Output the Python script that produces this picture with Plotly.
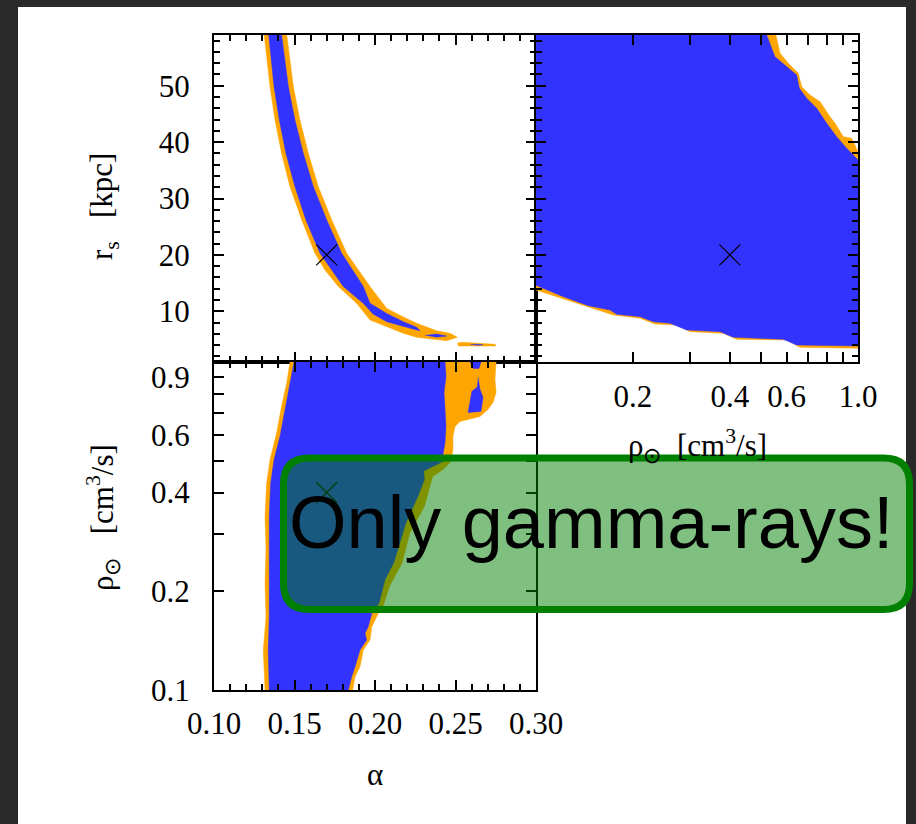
import plotly.graph_objects as go

# ---------------- data ----------------
# best-fit point
best_alpha = [0.17]
best_rs = [20.0]
best_rho = [0.4]

# alpha vs r_s : outer (orange) and inner (blue) confidence regions
ar_outer_alpha = [0.1312, 0.1348, 0.1379, 0.1420, 0.1472, 0.1545, 0.1627, 0.1689, 0.1772, 0.1886,
                  0.1969, 0.2093, 0.2176, 0.2259, 0.2342, 0.2445, 0.2511,
                  0.2466, 0.2383, 0.2321, 0.2259, 0.2176, 0.2073, 0.1969, 0.1824, 0.1731,
                  0.1648, 0.1586, 0.1534, 0.1493, 0.1452]
ar_outer_rs = [59.0, 49.8, 43.9, 38.0, 32.1, 26.2, 20.3, 17.3, 14.4, 11.4,
               8.45, 6.98, 6.09, 5.38, 5.08, 4.78, 5.38,
               6.09, 6.55, 7.15, 7.86, 9.0, 10.5, 14.4, 20.3, 26.2,
               32.1, 38.0, 43.9, 49.8, 59.0]
ar_inner_alpha = [0.1340, 0.1373, 0.1406, 0.1447, 0.1503, 0.1571, 0.1658, 0.1803, 0.1927, 0.1988,
                  0.2073, 0.2176, 0.2259, 0.2280,
                  0.2259, 0.2176, 0.2073, 0.1969, 0.1927, 0.1793, 0.1700, 0.1617, 0.1555,
                  0.1503, 0.1462, 0.1420]
ar_inner_rs = [59.0, 49.8, 43.9, 38.0, 32.1, 26.2, 20.3, 14.4, 11.4, 9.5,
               8.15, 7.26, 6.68, 6.55,
               7.15, 8.15, 9.6, 11.4, 14.4, 20.3, 26.2, 32.1, 38.0,
               43.9, 49.8, 59.0]
ar_inner2_alpha = [0.2311, 0.2380, 0.2445, 0.2380]
ar_inner2_rs = [5.7, 5.95, 5.6, 5.4]
ar_tail_alpha = [0.2511, 0.2539, 0.2745, 0.2752, 0.2517]
ar_tail_rs = [4.32, 4.49, 4.14, 3.84, 3.84]
ar_tail_inner_alpha = [0.2590, 0.2630, 0.2670, 0.2630]
ar_tail_inner_rs = [4.05, 4.15, 4.05, 3.95]

# rho vs r_s
rr_outer_rho = [0.1, 0.5560, 0.5726, 0.6076, 0.6527, 0.6687, 0.7095, 0.7621, 0.8185, 0.8484,
                0.9005, 0.9557, 1.0, 1.0,
                0.6605, 0.6004, 0.4201, 0.3818, 0.3008, 0.2734, 0.2342, 0.2104, 0.1739,
                0.1471, 0.1216, 0.1]
rr_outer_rs = [59.0, 59.0, 55.75, 53.97, 52.2, 49.8, 48.36, 47.17, 44.51, 43.33,
               40.97, 40.67, 38.31, 3.42,
               3.60, 4.90, 5.02, 6.08, 6.38, 7.56, 7.74, 8.75, 9.34,
               10.70, 12.12, 13.77]
rr_inner_rho = [0.1, 0.5204, 0.5521, 0.6004, 0.6450, 0.6574, 0.6928, 0.7441, 0.7993, 0.8585,
                0.9222, 1.0, 1.0,
                0.6450, 0.5863, 0.4101, 0.3728, 0.2937, 0.2607, 0.2314, 0.2104, 0.1781,
                0.1698, 0.1454, 0.1216, 0.1]
rr_inner_rs = [59.0, 59.0, 55.16, 53.38, 51.9, 49.54, 47.77, 45.99, 43.33, 40.97,
               38.9, 36.83, 3.84,
               4.02, 5.02, 5.38, 6.38, 6.68, 7.86, 8.15, 9.04, 9.45,
               10.22, 10.99, 12.59, 14.6]

# alpha vs rho
ap_outer_alpha = [0.1472, 0.1452, 0.1420, 0.1389, 0.1348, 0.1327, 0.1317, 0.1323, 0.1317, 0.1323,
                  0.1306, 0.1317,
                  0.1861, 0.1876, 0.1907, 0.1927, 0.1969, 0.1980, 0.2020, 0.2050, 0.2090,
                  0.2168, 0.2217, 0.2307, 0.2358, 0.2422, 0.2472, 0.2478, 0.2484, 0.2484,
                  0.2497, 0.2528, 0.2652, 0.2702, 0.2733, 0.2752, 0.2745, 0.2752]
ap_outer_rho = [1.0, 0.865, 0.734, 0.608, 0.504, 0.428, 0.338, 0.268, 0.212, 0.167,
                0.1325, 0.1,
                0.1, 0.1098, 0.1178, 0.1325, 0.142, 0.156, 0.171, 0.180, 0.207,
                0.244, 0.302, 0.363, 0.448, 0.470, 0.497, 0.522, 0.541, 0.593,
                0.636, 0.659, 0.682, 0.717, 0.753, 0.808, 0.885, 1.0]
ap_inner_alpha = [0.1497, 0.1472, 0.1441, 0.1410, 0.1373, 0.1352, 0.1343, 0.1343, 0.1340, 0.1343,
                  0.1337, 0.1343,
                  0.1834, 0.1855, 0.1876, 0.1896, 0.1907, 0.1948, 0.1938, 0.1958, 0.1980,
                  0.2025, 0.2062, 0.2116, 0.2168, 0.2193, 0.2267, 0.2307, 0.2302, 0.2422,
                  0.2422, 0.2435, 0.2441, 0.2435, 0.2429, 0.2441, 0.2435]
ap_inner_rho = [1.0, 0.865, 0.717, 0.594, 0.504, 0.428, 0.338, 0.268, 0.212, 0.167,
                0.1325, 0.1,
                0.1, 0.1098, 0.1178, 0.1264, 0.1325, 0.142, 0.149, 0.156, 0.171,
                0.184, 0.217, 0.244, 0.294, 0.324, 0.390, 0.438, 0.465, 0.497,
                0.522, 0.568, 0.636, 0.707, 0.808, 0.904, 1.0]
ap_hole_alpha = [0.2640, 0.2652, 0.2671, 0.2658, 0.2578, 0.2590, 0.2602, 0.2634]
ap_hole_rho = [0.898, 0.825, 0.780, 0.707, 0.702, 0.769, 0.814, 0.837]
ap_top_alpha = [0.2590, 0.2658, 0.2646, 0.2609]
ap_top_rho = [1.0, 1.0, 0.956, 0.956]

# ticks and tick labels
alpha_ticks = [0.10, 0.15, 0.20, 0.25, 0.30]
alpha_ticklabels = ["0.10", "0.15", "0.20", "0.25", "0.30"]
rs_ticks = [10, 20, 30, 40, 50]
rho_x_ticks = [0.2, 0.4, 0.6, 1.0]
rho_x_ticklabels = ["0.2", "0.4", "0.6", "1.0"]
rho_x_minor = [0.3, 0.5, 0.7, 0.8, 0.9]
rho_y_ticks = [0.1, 0.2, 0.4, 0.6, 0.9]
rho_y_ticklabels = ["0.1", "0.2", "0.4", "0.6", "0.9"]
rho_y_minor = [0.3, 0.5, 0.7, 0.8]

ORANGE = "#FFA500"
BLUE = "#3333FF"
W, H = 916, 824
SERIF = "Liberation Serif"


def px(x):
    return x / W


def py(y):
    return 1 - y / H


fig = go.Figure()


def region(xs, ys, color, xa, ya):
    fig.add_trace(go.Scatter(x=xs, y=ys, mode="lines", fill="toself", fillcolor=color,
                             line=dict(color=color, width=0.5), hoverinfo="skip",
                             showlegend=False, xaxis=xa, yaxis=ya))


# top-left panel
region(ar_outer_alpha, ar_outer_rs, ORANGE, "x", "y")
region(ar_tail_alpha, ar_tail_rs, ORANGE, "x", "y")
region(ar_inner_alpha, ar_inner_rs, BLUE, "x", "y")
region(ar_inner2_alpha, ar_inner2_rs, BLUE, "x", "y")
region(ar_tail_inner_alpha, ar_tail_inner_rs, BLUE, "x", "y")
# top-right panel
region(rr_outer_rho, rr_outer_rs, ORANGE, "x2", "y2")
region(rr_inner_rho, rr_inner_rs, BLUE, "x2", "y2")
# bottom-left panel
region(ap_outer_alpha, ap_outer_rho, ORANGE, "x3", "y3")
region(ap_inner_alpha, ap_inner_rho, BLUE, "x3", "y3")
region(ap_hole_alpha, ap_hole_rho, BLUE, "x3", "y3")
region(ap_top_alpha, ap_top_rho, BLUE, "x3", "y3")

cross = dict(symbol="x-thin", size=21, line=dict(color="black", width=1.2), color="black")
fig.add_trace(go.Scatter(x=best_alpha, y=best_rs, mode="markers", marker=cross,
                         hoverinfo="skip", showlegend=False, xaxis="x", yaxis="y"))
fig.add_trace(go.Scatter(x=best_rho, y=best_rs, mode="markers", marker=cross,
                         hoverinfo="skip", showlegend=False, xaxis="x2", yaxis="y2"))
fig.add_trace(go.Scatter(x=best_alpha, y=best_rho, mode="markers", marker=cross,
                         hoverinfo="skip", showlegend=False, xaxis="x3", yaxis="y3"))

tickfont = dict(family=SERIF, size=31, color="black")
common = dict(showline=True, linecolor="black", linewidth=2, mirror="ticks", ticks="inside",
              ticklen=10, tickwidth=1.5, tickcolor="black", showgrid=False, zeroline=False,
              tickfont=tickfont, fixedrange=True, automargin=False)
alpha_minor = dict(ticks="inside", ticklen=6, tickwidth=1.5, tickcolor="black",
                   dtick=0.01, tick0=0.1, showgrid=False)
rs_minor = dict(ticks="inside", ticklen=6, tickwidth=1.5, tickcolor="black",
                dtick=2, tick0=0, showgrid=False)
rho_x_minor_ticks = dict(ticks="inside", ticklen=10, tickwidth=1.5, tickcolor="black",
                         tickmode="array", tickvals=rho_x_minor, showgrid=False)
rho_y_minor_ticks = dict(ticks="inside", ticklen=10, tickwidth=1.5, tickcolor="black",
                         tickmode="array", tickvals=rho_y_minor, showgrid=False)

dom_x_left = [px(214), px(536)]
dom_x_right = [px(536), px(858)]
dom_y_top = [py(362), py(35)]
dom_y_bot = [py(690), py(362)]

fig.update_layout(
    width=W, height=H,
    margin=dict(l=0, r=0, t=0, b=0, pad=0, autoexpand=False),
    paper_bgcolor="#2a2a2a",
    plot_bgcolor="white",
    showlegend=False,
    xaxis=dict(domain=dom_x_left, anchor="y", range=[0.1, 0.3], tickvals=alpha_ticks,
               showticklabels=False, minor=alpha_minor, **common),
    yaxis=dict(domain=dom_y_top, anchor="x", range=[1, 59], tickvals=rs_ticks,
               minor=rs_minor, ticklabelstandoff=16, **common),
    xaxis2=dict(domain=dom_x_right, anchor="y2", type="log", range=[-1, 0],
                tickvals=rho_x_ticks, ticktext=rho_x_ticklabels, minor=rho_x_minor_ticks,
                ticklabelstandoff=6, **common),
    yaxis2=dict(domain=dom_y_top, anchor="x2", range=[1, 59], tickvals=rs_ticks,
                showticklabels=False, minor=rs_minor, **common),
    xaxis3=dict(domain=dom_x_left, anchor="y3", range=[0.1, 0.3], tickvals=alpha_ticks,
                ticktext=alpha_ticklabels, minor=alpha_minor,
                ticklabelstandoff=5, **common),
    yaxis3=dict(domain=dom_y_bot, anchor="x3", type="log", range=[-1, 0],
                tickvals=rho_y_ticks, ticktext=rho_y_ticklabels, minor=rho_y_minor_ticks,
                ticklabelstandoff=16, **common),
)

# white slide panel behind the plots
fig.add_shape(type="rect", xref="paper", yref="paper", x0=px(18), x1=px(906), y0=0, y1=py(7),
              fillcolor="white", line=dict(width=0), layer="below")

titlefont = dict(family=SERIF, size=31, color="black")
nb = "\u00a0"


def label(x, y, text, angle=0):
    fig.add_annotation(x=px(x), y=py(y), xref="paper", yref="paper", showarrow=False,
                       xanchor="center", yanchor="middle", text=text, textangle=angle,
                       font=titlefont)


label(104, 207, "r<sub>s</sub>" + nb * 3 + "[kpc]", -90)
label(103, 518, "ρ<sub>⊙</sub>" + nb * 3 + "[cm<sup>3</sup>/s]", -90)
label(697, 446, "ρ<sub>⊙</sub>" + nb * 2 + "[cm<sup>3</sup>/s]")
label(375, 774, "α")

# highlighted call-out box
L, R, T, B, r = 283.5, 909.5, 458.0, 609.5, 26.0
path = (f"M {px(L + r)} {py(T)} L {px(R - r)} {py(T)} Q {px(R)} {py(T)} {px(R)} {py(T + r)} "
        f"L {px(R)} {py(B - r)} Q {px(R)} {py(B)} {px(R - r)} {py(B)} "
        f"L {px(L + r)} {py(B)} Q {px(L)} {py(B)} {px(L)} {py(B - r)} "
        f"L {px(L)} {py(T + r)} Q {px(L)} {py(T)} {px(L + r)} {py(T)} Z")
fig.add_shape(type="path", xref="paper", yref="paper", path=path,
              fillcolor="rgba(0,128,0,0.5)", line=dict(color="#008000", width=7), layer="above")
fig.add_annotation(x=px(287), y=py(522), xref="paper", yref="paper", showarrow=False,
                   xanchor="left", yanchor="middle", text="Only gamma-rays!",
                   font=dict(family="Liberation Sans", size=74, color="black"))

fig.write_html("out.html")
